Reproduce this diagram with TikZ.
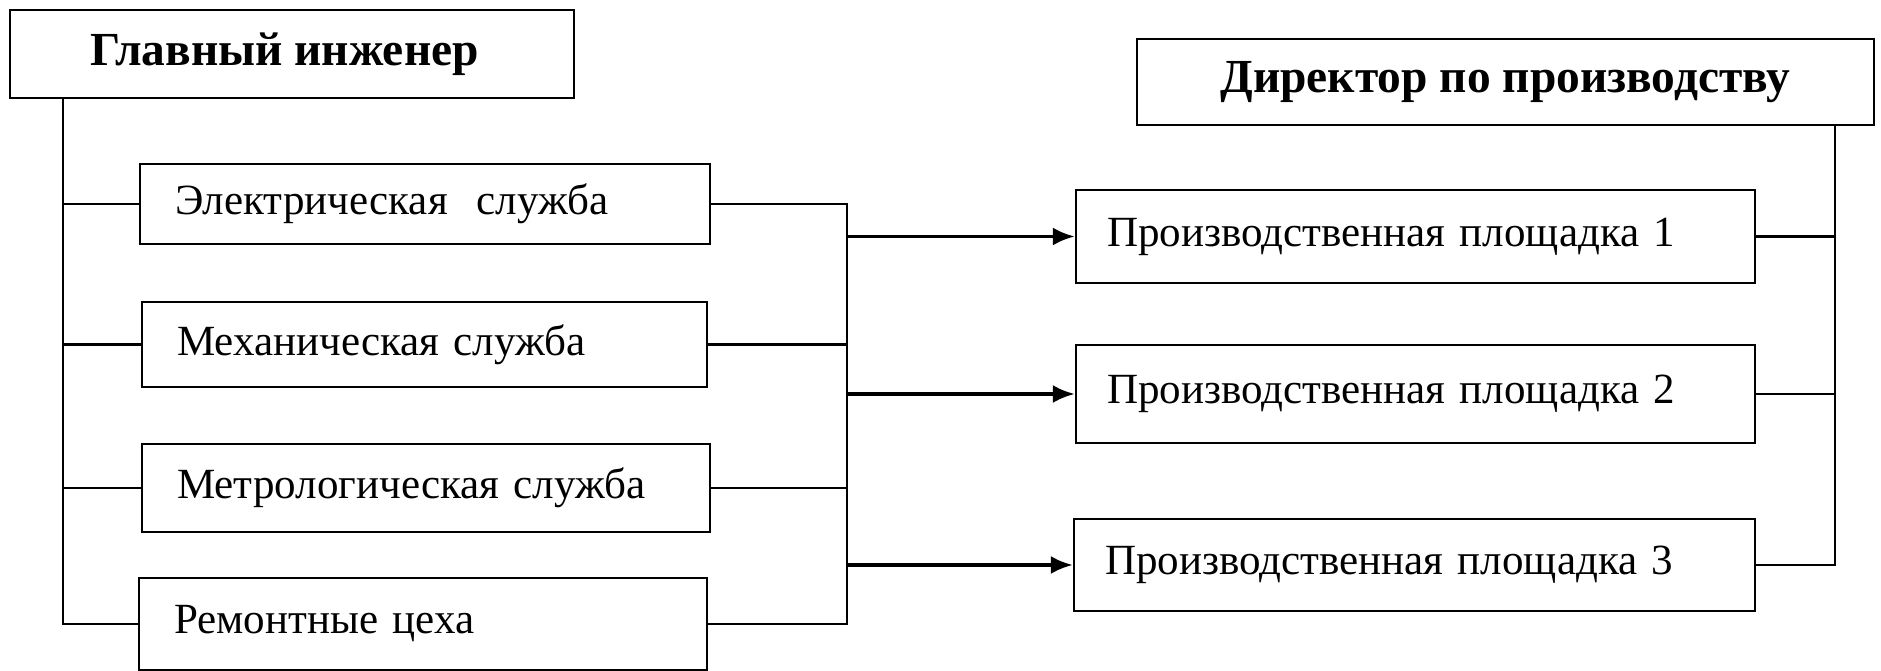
\documentclass[tikz,border=0pt]{standalone}
\usepackage{fontspec}
\setmainfont{Liberation Serif}
\usetikzlibrary{arrows.meta}
\begin{document}
\begin{tikzpicture}[x=0.02cm, y=-0.02cm,
    wire/.style={line width=1.3pt},
    box/.style={draw, wire, inner ysep=0pt, font=\fontsize{24.5}{28}\selectfont},
    head/.style={box, inner xsep=0pt, font=\fontsize{27}{30}\selectfont\bfseries},
    unit/.style={box, inner xsep=0.7cm, text width=#1, align=left},
    site/.style={box, inner xsep=0.62cm, text width=#1, align=left},
    arr/.style={line width=2.2pt, -{Latex[length=0.44cm, width=0.36cm]}}]
    \useasboundingbox (0,0) rectangle (1881,671);
    \node[head, minimum width=11.28cm, minimum height=1.76cm] (gi) at (292,54) {\hspace*{-0.3cm}Главный инженер};
    \node[head, minimum width=14.74cm, minimum height=1.72cm] (dir) at (1505.5,82) {Директор по производству};
    \node[unit=10cm, minimum height=1.6cm] (el) at (425,204) {Электрическая\ \ служба};
    \node[unit=9.9cm, minimum height=1.7cm] (me) at (424.5,344.5) {Механическая служба};
    \node[unit=9.96cm, minimum height=1.76cm] (mt) at (426,488) {Метрологическая служба};
    \node[unit=9.96cm, minimum height=1.84cm] (rc) at (423,624) {Ремонтные цеха};
    \node[site=12.34cm, minimum height=1.86cm] (p1) at (1415.5,236.5) {Производственная площадка 1};
    \node[site=12.34cm, minimum height=1.96cm] (p2) at (1415.5,394) {Производственная площадка 2};
    \node[site=12.38cm, minimum height=1.84cm] (p3) at (1414.5,565) {Производственная площадка 3};
    \coordinate (lbus) at (63,0);
    \coordinate (mbus) at (847,0);
    \coordinate (rbus) at (1835,0);
    \draw[wire] (lbus |- gi.south) |- (rc.west);
    \draw[wire] (el.west) -- (el.west -| lbus);
    \draw[wire] (me.west) -- (me.west -| lbus);
    \draw[wire] (mt.west) -- (mt.west -| lbus);
    \draw[wire] (el.east) -| (rc.east -| mbus) -- (rc.east);
    \draw[wire] (me.east) -- (me.east -| mbus);
    \draw[wire] (mt.east) -- (mt.east -| mbus);
    \draw[arr] (p1.west -| mbus) -- (p1.west);
    \draw[arr] (p2.west -| mbus) -- (p2.west);
    \draw[arr] (p3.west -| mbus) -- (p3.west);
    \draw[wire] (rbus |- dir.south) |- (p3.east);
    \draw[wire] (p1.east) -- (p1.east -| rbus);
    \draw[wire] (p2.east) -- (p2.east -| rbus);
\end{tikzpicture}
\end{document}
